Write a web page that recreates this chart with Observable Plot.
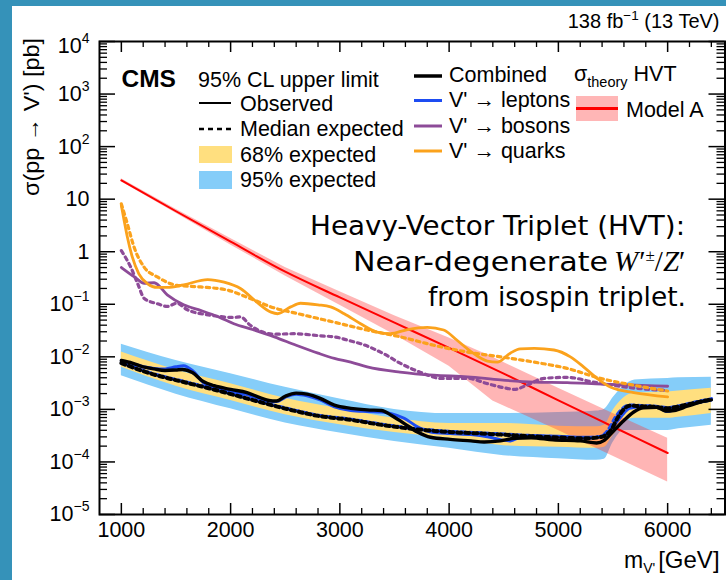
<!DOCTYPE html>
<html><head><meta charset="utf-8">
<script src="https://cdn.jsdelivr.net/npm/d3@7"></script>
<script src="https://cdn.jsdelivr.net/npm/@observablehq/plot@0.6"></script>
<style>
html,body{margin:0;padding:0;background:#fff;}
body{width:726px;height:580px;position:relative;overflow:hidden;font-family:"Liberation Sans",Arial,sans-serif;}
#chart{position:absolute;left:12px;top:6px;width:714px;height:574px;}
#overlay{position:absolute;left:0;top:0;pointer-events:none;}
.bar{position:absolute;background:#3592b9;}
</style></head>
<body>
<div id="chart"></div>
<svg id="overlay" width="726" height="580" font-family="'Liberation Sans', Arial, Helvetica, sans-serif" fill="#000">
  <text x="719.5" y="28" font-size="20" text-anchor="end">138 fb<tspan font-size="13.5" dy="-8">−1</tspan><tspan dy="8"> (13 TeV)</tspan></text>
  <text x="121.5" y="87" font-size="24.5" font-weight="bold">CMS</text>
  <text x="198" y="87" font-size="21.5">95% CL upper limit</text>
  <line x1="199" x2="231" y1="103" y2="103" stroke="#000" stroke-width="2"/>
  <text x="240" y="110.5" font-size="21.5">Observed</text>
  <line x1="199" x2="232" y1="129" y2="129" stroke="#000" stroke-width="2.5" stroke-dasharray="5,4"/>
  <text x="240" y="136" font-size="21.5">Median expected</text>
  <rect x="199" y="146" width="33" height="17" fill="#ffdf7f"/>
  <text x="240" y="161.5" font-size="21.5">68% expected</text>
  <rect x="199" y="171" width="33" height="18" fill="#85cdf9"/>
  <text x="240" y="187" font-size="21.5">95% expected</text>
  <line x1="414" x2="442" y1="76" y2="76" stroke="#000" stroke-width="3.5"/>
  <text x="449" y="82" font-size="21.5">Combined</text>
  <line x1="414" x2="442" y1="100.5" y2="100.5" stroke="#1d4cf2" stroke-width="3"/>
  <text x="449" y="107" font-size="21.5">V' → leptons</text>
  <line x1="414" x2="442" y1="126" y2="126" stroke="#8d4b98" stroke-width="3"/>
  <text x="449" y="132.5" font-size="21.5">V' → bosons</text>
  <line x1="414" x2="442" y1="151" y2="151" stroke="#fba21c" stroke-width="3"/>
  <text x="449" y="157.5" font-size="21.5">V' → quarks</text>
  <text x="574" y="81" font-size="21.5">σ<tspan font-size="14.5" dy="6">theory</tspan><tspan dy="-6"> HVT</tspan></text>
  <rect x="576" y="96" width="42" height="25" fill="#ffb6b6"/>
  <line x1="576" x2="618" y1="108.5" y2="108.5" stroke="#ff0000" stroke-width="3"/>
  <text x="626" y="117" font-size="21.5">Model A</text>
  <g font-family="'DejaVu Sans', sans-serif" font-size="27">
    <text x="310" y="235" textLength="375" lengthAdjust="spacingAndGlyphs">Heavy-Vector Triplet (HVT):</text>
    <text x="353" y="270.5" textLength="255" lengthAdjust="spacingAndGlyphs">Near-degenerate</text>
    <text x="614" y="270.5" font-family="'Liberation Serif', 'DejaVu Serif', serif" font-size="29"><tspan font-style="italic">W</tspan><tspan dx="1">′</tspan><tspan font-size="17" dy="-10">±</tspan><tspan dy="10">/</tspan><tspan font-style="italic">Z</tspan><tspan>′</tspan></text>
    <text x="428" y="305.5" textLength="258" lengthAdjust="spacingAndGlyphs">from isospin triplet.</text>
  </g>
  <text transform="translate(38.5,38) rotate(-90)" font-size="21.5" text-anchor="end" textLength="158" lengthAdjust="spacingAndGlyphs">σ(pp → V') [pb]</text>
  <text x="624" y="568" font-size="23">m<tspan font-size="14" dy="5">V'</tspan><tspan font-size="24" dy="-5" dx="3">[GeV]</tspan></text>
</svg>
<div class="bar" style="left:0;top:0;width:12px;height:580px"></div>
<div class="bar" style="left:0;top:0;width:726px;height:6px"></div>
<script>
// ---------- data (y values stored as log10 of sigma in pb) ----------
const xMajorTicks = [1000, 2000, 3000, 4000, 5000, 6000];
const xTickLabels = ["1000", "2000", "3000", "4000", "5000", "6000"];
const yMajorTicks = [1e4, 1e3, 1e2, 1e1, 1e0, 1e-1, 1e-2, 1e-3, 1e-4, 1e-5];
const yTickBase = ["10", "10", "10", "10", "1", "10", "10", "10", "10", "10"];
const yTickExp = ["4", "3", "2", "", "", "−1", "−2", "−3", "−4", "−5"];

// theory: HVT model A
const theoryM = [1000, 1500, 2000, 2500, 3000, 3500, 4000, 4500, 5000, 5500, 6000];
const theoryLog = [1.357, 0.77, 0.19, -0.38, -0.87, -1.35, -1.83, -2.32, -2.83, -3.33, -3.83];
const theoryBandM = [1000, 1500, 2000, 2500, 3000, 3500, 4000, 4400, 5000, 5500, 6000];
const theoryBandLoLog = [1.33, 0.73, 0.13, -0.46, -1.02, -1.58, -2.18, -2.84, -3.40, -3.89, -4.38];
const theoryBandHiLog = [1.39, 0.81, 0.25, -0.30, -0.76, -1.22, -1.64, -2.01, -2.60, -3.08, -3.55];

// combined expected bands
const bandM = [1000, 1500, 2000, 2500, 3000, 3500, 4000, 4500, 5000, 5350, 5420, 5500, 5600, 5700, 6000, 6100, 6400];
const band95HiLog = [-1.76, -2.07, -2.32, -2.58, -2.80, -3.00, -3.08, -3.08, -3.06, -3.03, -3.00, -2.78, -2.55, -2.44, -2.41, -2.40, -2.39];
const band68HiLog = [-1.91, -2.25, -2.51, -2.79, -2.99, -3.17, -3.27, -3.27, -3.32, -3.33, -3.30, -3.02, -2.78, -2.69, -2.67, -2.65, -2.60];
const band68LoLog = [-2.20, -2.56, -2.83, -3.10, -3.29, -3.44, -3.55, -3.69, -3.72, -3.74, -3.72, -3.50, -3.25, -3.17, -3.17, -3.15, -3.08];
const band95LoLog = [-2.36, -2.71, -2.99, -3.26, -3.45, -3.61, -3.74, -3.88, -3.94, -3.97, -3.95, -3.63, -3.40, -3.40, -3.40, -3.37, -3.30];

// combined
const combObsM = [1000,1100,1200,1300,1400,1500,1560,1650,1750,1850,2000,2150,2250,2350,2420,2500,2600,2700,2820,2950,3100,3250,3380,3470,3590,3710,3830,4010,4200,4320,4470,4600,4750,4950,5200,5350,5420,5500,5600,5690,5780,5900,5980,6060,6180,6300,6400];
const combObsLog = [-2.07,-2.12,-2.19,-2.23,-2.26,-2.25,-2.24,-2.30,-2.47,-2.55,-2.62,-2.68,-2.76,-2.83,-2.84,-2.75,-2.69,-2.71,-2.79,-2.92,-2.98,-3.01,-3.02,-3.11,-3.27,-3.43,-3.53,-3.57,-3.60,-3.62,-3.60,-3.55,-3.54,-3.58,-3.60,-3.64,-3.59,-3.42,-3.21,-3.05,-2.97,-2.96,-3.03,-3.02,-2.94,-2.86,-2.82];
const combExpM = [1000,1270,1570,1880,2180,2490,2820,3100,3400,3700,4000,4300,4650,4950,5250,5380,5480,5540,5590,5650,5750,5870,6000,6090,6240,6400];
const combExpLog = [-2.12,-2.32,-2.48,-2.64,-2.81,-2.98,-3.13,-3.20,-3.30,-3.38,-3.43,-3.46,-3.50,-3.53,-3.55,-3.53,-3.40,-3.17,-3.02,-2.93,-2.94,-2.95,-2.98,-2.95,-2.88,-2.81];

// V' -> leptons
const lepObsM = [1000,1100,1200,1300,1400,1500,1570,1650,1750,1850,2000,2150,2250,2350,2420,2500,2600,2700,2820,2950,3100,3250,3380,3470,3590,3710,3830,4010,4200,4350,4480,4560,4650,4800,5000,5200,5350,5430,5500,5580,5650,5750,5900,5990,6060,6180,6300,6400];
const lepObsLog = [-2.08,-2.13,-2.19,-2.22,-2.23,-2.19,-2.17,-2.26,-2.49,-2.59,-2.67,-2.72,-2.79,-2.84,-2.85,-2.77,-2.71,-2.74,-2.82,-2.95,-3.02,-3.04,-3.05,-3.08,-3.17,-3.33,-3.43,-3.46,-3.48,-3.52,-3.58,-3.60,-3.53,-3.50,-3.51,-3.53,-3.53,-3.48,-3.33,-3.12,-2.98,-2.95,-2.95,-3.04,-3.01,-2.92,-2.86,-2.82];
const lepExpM = [1000,1270,1570,1880,2180,2490,2820,3100,3400,3700,4000,4300,4650,4950,5250,5380,5460,5520,5580,5650,5750,5870,6000,6090,6240,6400];
const lepExpLog = [-2.11,-2.31,-2.47,-2.63,-2.80,-2.97,-3.12,-3.19,-3.29,-3.37,-3.42,-3.45,-3.49,-3.52,-3.54,-3.52,-3.38,-3.16,-3.00,-2.92,-2.93,-2.94,-2.97,-2.94,-2.87,-2.80];

// V' -> bosons
const bosObsM = [1000,1120,1210,1300,1420,1570,1730,1900,2030,2200,2400,2600,2800,2950,3100,3250,3550,3860,4170,4470,4780,5080,5400,5700,6000];
const bosObsLog = [-0.30,-0.48,-0.60,-0.59,-0.82,-1.01,-1.12,-1.25,-1.37,-1.48,-1.62,-1.78,-1.93,-2.03,-2.10,-2.19,-2.29,-2.35,-2.38,-2.44,-2.48,-2.49,-2.52,-2.54,-2.56];
const bosExpM = [1000,1085,1150,1210,1330,1420,1510,1600,1820,2030,2090,2180,2400,2580,2820,2950,3100,3190,3400,3560,3770,3920,4170,4350,4530,4600,4710,4870,5080,5320,5630,6000];
const bosExpLog = [0.02,-0.29,-0.61,-0.89,-0.99,-1.04,-0.98,-1.10,-1.21,-1.25,-1.24,-1.40,-1.57,-1.56,-1.60,-1.62,-1.70,-1.75,-1.94,-2.13,-2.32,-2.41,-2.41,-2.51,-2.60,-2.62,-2.54,-2.41,-2.39,-2.48,-2.58,-2.64];

// V' -> quarks
const qObsM = [1000,1025,1055,1100,1160,1240,1330,1420,1570,1790,1940,2090,2240,2370,2430,2550,2640,2800,2915,3040,3190,3340,3460,3620,3800,3950,4070,4200,4350,4440,4560,4650,4780,4960,5110,5230,5360,5480,5690,6000];
const qObsLog = [0.88,0.60,0.28,-0.10,-0.42,-0.61,-0.68,-0.68,-0.63,-0.53,-0.58,-0.70,-0.96,-1.15,-1.18,-1.05,-0.98,-1.01,-1.05,-1.18,-1.37,-1.53,-1.56,-1.48,-1.44,-1.49,-1.68,-1.90,-2.08,-2.10,-1.93,-1.85,-1.84,-1.87,-2.00,-2.19,-2.42,-2.58,-2.68,-2.76];
const qExpM = [1000,1055,1116,1207,1330,1510,1725,1970,2180,2370,2640,2945,3250,3555,3860,4170,4470,4775,5080,5385,5690,6000];
const qExpLog = [0.91,0.53,0.09,-0.29,-0.48,-0.64,-0.67,-0.73,-0.89,-1.05,-1.19,-1.34,-1.49,-1.62,-1.78,-1.91,-2.00,-2.10,-2.22,-2.41,-2.54,-2.65];

// ---------- tables ----------
const toRows = (ms, logs) => ms.map((m, i) => ({m, v: Math.pow(10, logs[i])}));
const toBand = (ms, lo, hi) => ms.map((m, i) => ({m, lo: Math.pow(10, lo[i]), hi: Math.pow(10, hi[i])}));

const theory = toRows(theoryM, theoryLog);
const theoryBand = toBand(theoryBandM, theoryBandLoLog, theoryBandHiLog);
const band95 = toBand(bandM, band95LoLog, band95HiLog);
const band68 = toBand(bandM, band68LoLog, band68HiLog);
const combObs = toRows(combObsM, combObsLog);
const combExp = toRows(combExpM, combExpLog);
const lepObs = toRows(lepObsM, lepObsLog);
const lepExp = toRows(lepExpM, lepExpLog);
const bosObs = toRows(bosObsM, bosObsLog);
const bosExp = toRows(bosExpM, bosExpLog);
const qObs = toRows(qObsM, qObsLog);
const qExp = toRows(qExpM, qExpLog);

// ticks
const xMinorTicks = d3.range(1200, 6500, 200).filter(v => v % 1000 !== 0);
const yMinorTicks = [];
for (let e = -5; e <= 3; e++) for (let k = 2; k <= 9; k++) yMinorTicks.push(k * Math.pow(10, e));

// ---------- layout ----------
const W = 714, H = 574, mL = 87, mR = 1.5, mT = 35, mB = 66;
const fw = W - mL - mR, fh = H - mT - mB;
const FONT = "'Liberation Sans', Arial, Helvetica, sans-serif";

const ctx = document.createElement("canvas").getContext("2d");
ctx.font = "14px 'Liberation Sans'";
const expW = s => s ? ctx.measureText(s).width : 0;

const C = {
  lep: "#1d4cf2", bos: "#8d4b98", q: "#fba21c", red: "#ff0000",
  b95: "#85cdf9", b68: "#ffdf7f", pink: "#ff3333"
};
const dash = "3.5,4";
const line = (data, o) => Plot.line(data, {x: "m", y: "v", curve: "monotone-x", strokeLinejoin: "round", ...o});

const yLabelMarks = [];
yMajorTicks.forEach((val, i) => {
  const e = yTickExp[i];
  const w = expW(e);
  const dyTop = i === 0 ? 5 : 0;
  yLabelMarks.push(Plot.text([val], {y: d => d, frameAnchor: "left", text: () => yTickBase[i], textAnchor: "end",
    lineAnchor: "middle", dx: -10 - w, dy: dyTop, fontSize: 21.5}));
  if (e) yLabelMarks.push(Plot.text([val], {y: d => d, frameAnchor: "left", text: () => e, textAnchor: "end",
    lineAnchor: "middle", dx: -10, dy: dyTop - 7.5, fontSize: 14}));
});

const chart = Plot.plot({
  width: W, height: H, marginLeft: mL, marginRight: mR, marginTop: mT, marginBottom: mB,
  x: {domain: [800, 6525], axis: null},
  y: {type: "log", domain: [1e-5, 1e4], axis: null},
  style: {fontFamily: FONT, background: "white", overflow: "visible", color: "black"},
  marks: [
    Plot.areaY(band95, {x: "m", y1: "lo", y2: "hi", fill: C.b95, curve: "monotone-x"}),
    Plot.areaY(band68, {x: "m", y1: "lo", y2: "hi", fill: C.b68, curve: "monotone-x"}),
    Plot.areaY(theoryBand, {x: "m", y1: "lo", y2: "hi", fill: C.pink, fillOpacity: 0.36}),
    line(theory, {stroke: C.red, strokeWidth: 2}),
    line(bosObs, {stroke: C.bos, strokeWidth: 2.8}),
    line(bosExp, {stroke: C.bos, strokeWidth: 3.2, strokeDasharray: dash}),
    line(qObs, {stroke: C.q, strokeWidth: 2.8}),
    line(qExp, {stroke: C.q, strokeWidth: 3.2, strokeDasharray: dash}),
    line(lepExp, {stroke: C.lep, strokeWidth: 3.5, strokeDasharray: "4,4", strokeDashoffset: 4}),
    line(lepObs, {stroke: C.lep, strokeWidth: 3}),
    line(combExp, {stroke: "black", strokeWidth: 4, strokeDasharray: "4,4"}),
    line(combObs, {stroke: "black", strokeWidth: 3.4}),
    // ticks (ROOT style, inside the frame on all four sides)
    Plot.tickX(xMajorTicks, {x: d => d, insetTop: fh - 11, strokeWidth: 1.5}),
    Plot.tickX(xMinorTicks, {x: d => d, insetTop: fh - 6, strokeWidth: 1.3}),
    Plot.tickX(xMajorTicks, {x: d => d, insetBottom: fh - 11, strokeWidth: 1.5}),
    Plot.tickX(xMinorTicks, {x: d => d, insetBottom: fh - 6, strokeWidth: 1.3}),
    Plot.tickY(yMajorTicks, {y: d => d, insetRight: fw - 16, strokeWidth: 1.5}),
    Plot.tickY(yMinorTicks, {y: d => d, insetRight: fw - 8, strokeWidth: 1.3}),
    Plot.tickY(yMajorTicks, {y: d => d, insetLeft: fw - 16, strokeWidth: 1.5}),
    Plot.tickY(yMinorTicks, {y: d => d, insetLeft: fw - 8, strokeWidth: 1.3}),
    Plot.frame({stroke: "black", strokeWidth: 2}),
    Plot.text(xMajorTicks, {x: d => d, text: (d, i) => xTickLabels[i], frameAnchor: "bottom", lineAnchor: "top", dy: 7, fontSize: 21.5}),
    ...yLabelMarks
  ]
});
document.getElementById("chart").appendChild(chart);
</script>
</body></html>
